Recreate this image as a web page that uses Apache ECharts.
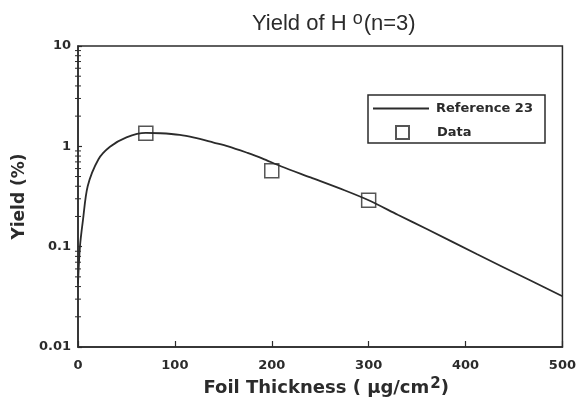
<!DOCTYPE html>
<html>
<head>
<meta charset="utf-8">
<script src="https://cdn.jsdelivr.net/npm/echarts@6/dist/echarts.min.js"></script>
<style>
  html, body { margin: 0; padding: 0; background: #fff; }
  #chart { width: 579px; height: 408px; }
</style>
</head>
<body>
<div id="chart"></div>
<script>
// Calculated yield curve (Reference 23): foil thickness (ug/cm2) vs yield (%)
const curveThickness = [0, 2, 5, 10, 21, 33, 50, 70, 85, 105, 120, 140, 155, 175, 190, 210, 240, 275, 300, 330, 360, 412, 465, 500];
const curveYield     = [0.043, 0.1, 0.18, 0.40, 0.74, 0.99, 1.23, 1.36, 1.35, 1.30, 1.22, 1.09, 1.00, 0.86, 0.76, 0.63, 0.49, 0.365, 0.29, 0.208, 0.15, 0.084, 0.047, 0.032];

// Measured points
const dataThickness = [70, 200, 300];
const dataYield     = [1.35, 0.57, 0.29];

// Axis tick labels
const xTickLabels = ['0', '100', '200', '300', '400', '500'];
const yTickLabels = ['0.01', '0.1', '1', '10'];
// Intermediate log ticks (2..9 of each decade)
const yMinorTicks = [0.02, 0.03, 0.04, 0.05, 0.06, 0.07, 0.08, 0.09,
                     0.2, 0.3, 0.4, 0.5, 0.6, 0.7, 0.8, 0.9,
                     2, 3, 4, 5, 6, 7, 8, 9];

const ink = '#2b2b2b';
const titleFont = '"Liberation Sans", Arial, sans-serif';
const labelFont = '"DejaVu Sans", "Liberation Sans", sans-serif';

const chart = echarts.init(document.getElementById('chart'), null, { renderer: 'canvas' });

chart.setOption({
  backgroundColor: '#fff',
  animation: false,
  title: {
    text: 'Yield of H {sup|o}(n=3)',
    left: 247,
    top: 5,
    textStyle: {
      fontFamily: titleFont,
      fontSize: 22,
      fontWeight: 'normal',
      color: ink,
      rich: {
        sup: { fontFamily: titleFont, fontSize: 18, color: ink, verticalAlign: 'bottom', padding: [0, 1, 9, 0] }
      }
    }
  },
  graphic: [{
    type: 'rect',
    shape: { x: 368, y: 95, width: 177, height: 48 },
    style: { fill: '#fff', stroke: ink, lineWidth: 1.5 },
    z: 5
  }],
  legend: [{
    data: [{ name: 'Reference 23', icon: 'rect' }],
    left: 373,
    top: 102,
    itemWidth: 56,
    itemHeight: 2,
    padding: 0,
    z: 10,
    textStyle: { fontFamily: labelFont, fontWeight: 'bold', fontSize: 13, color: ink, padding: [0, 0, 0, 2] }
  }, {
    data: ['Data'],
    left: 395,
    top: 125,
    itemWidth: 13,
    itemHeight: 13,
    padding: 0,
    z: 10,
    textStyle: { fontFamily: labelFont, fontWeight: 'bold', fontSize: 13, color: ink, padding: [0, 0, 0, 23] }
  }],
  grid: {
    left: 78, right: 15, top: 46, bottom: 61,
    show: true,
    borderColor: ink,
    borderWidth: 1.5,
    backgroundColor: 'transparent'
  },
  xAxis: {
    type: 'value',
    min: 0, max: 500, interval: 100,
    name: 'Foil Thickness ( \u03bcg/cm{sup|2})',
    nameLocation: 'middle',
    nameGap: 19,
    nameTextStyle: {
      fontFamily: labelFont, fontWeight: 'bold', fontSize: 18, color: ink,
      padding: [0, 0, 0, 12],
      rich: {
        sup: { fontFamily: labelFont, fontWeight: 'bold', fontSize: 15, color: ink, verticalAlign: 'bottom', padding: [0, 0, 7, 1] }
      }
    },
    axisLine: { show: true, lineStyle: { color: ink, width: 1.5 } },
    axisTick: { show: true, inside: true, length: 6, lineStyle: { color: ink, width: 1.2 } },
    axisLabel: {
      margin: 12,
      fontFamily: labelFont, fontWeight: 'bold', fontSize: 13, color: ink,
      formatter: (v, i) => xTickLabels[i]
    },
    splitLine: { show: false }
  },
  yAxis: {
    type: 'log',
    logBase: 10,
    min: 0.01, max: 10,
    name: 'Yield (%)',
    nameLocation: 'middle',
    nameGap: 49,
    nameTextStyle: { fontFamily: labelFont, fontWeight: 'bold', fontSize: 17, color: ink },
    axisLine: { show: true, lineStyle: { color: ink, width: 1.5 } },
    axisTick: { show: true, inside: true, length: 4, lineStyle: { color: ink, width: 1.2 } },
    axisLabel: {
      margin: 7,
      fontFamily: labelFont, fontWeight: 'bold', fontSize: 13, color: ink,
      formatter: (v, i) => yTickLabels[i]
    },
    splitLine: { show: false }
  },
  series: [{
    name: 'Reference 23',
    type: 'line',
    data: curveThickness.map((t, i) => [t, curveYield[i]]),
    smooth: 0.3,
    symbol: 'none',
    showSymbol: false,
    lineStyle: { color: ink, width: 1.8 },
    itemStyle: { color: ink },
    z: 3
  }, {
    name: 'Data',
    type: 'scatter',
    data: dataThickness.map((t, i) => [t, dataYield[i]]),
    symbol: 'rect',
    symbolSize: 14,
    itemStyle: { color: 'rgba(255,255,255,0)', borderColor: ink, borderWidth: 1.5 },
    z: 4
  }, {
    name: 'minorTicks',
    type: 'custom',
    silent: true,
    clip: false,
    data: yMinorTicks.map(v => [0, v]),
    renderItem: (params, api) => {
      const p = api.coord([api.value(0), api.value(1)]);
      return {
        type: 'line',
        shape: { x1: p[0] - 3, y1: p[1], x2: p[0] + 3, y2: p[1] },
        style: { stroke: ink, lineWidth: 1 }
      };
    },
    z: 2
  }]
});
</script>
</body>
</html>
